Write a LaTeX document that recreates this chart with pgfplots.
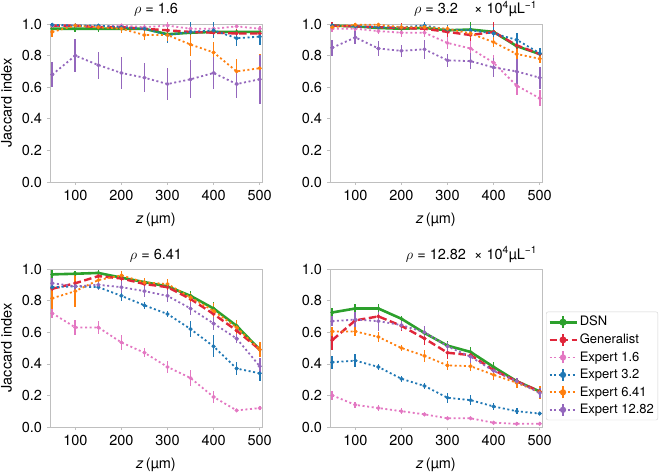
\documentclass[border=0pt]{standalone}
\usepackage{fontspec}
\setmainfont{TeX Gyre Heros}
\usepackage{pgfplots}
\usepackage{pgfplotstable}
\pgfplotsset{compat=1.18}

\definecolor{cgreen}{HTML}{2CA02C}
\definecolor{cred}{HTML}{E0263A}
\definecolor{cpink}{HTML}{E377C2}
\definecolor{cblue}{HTML}{1F77B4}
\definecolor{corange}{HTML}{FF7F0E}
\definecolor{cpurple}{HTML}{9467BD}

% columns: x, DSN, err, Generalist, err, Expert1.6, err, Expert3.2, err, Expert6.41, err, Expert12.82, err
\pgfplotstableread{
x   d     de    g     ge    p     pe    b     be    o     oe    u     ue
50  0.97  0.02  0.99  0.01  0.99  0.01  0.995 0.01  0.95  0.03  0.68  0.08
100 0.97  0.02  0.99  0.01  0.99  0.01  0.99  0.01  0.99  0.01  0.80  0.105
150 0.97  0.02  0.98  0.02  0.985 0.01  0.99  0.01  0.98  0.02  0.74  0.085
200 0.97  0.03  0.98  0.02  0.99  0.01  0.98  0.02  0.97  0.03  0.69  0.10
250 0.97  0.02  0.97  0.02  0.98  0.02  0.97  0.02  0.93  0.03  0.66  0.09
300 0.935 0.03  0.96  0.03  0.99  0.02  0.93  0.05  0.93  0.04  0.62  0.10
350 0.945 0.03  0.95  0.03  0.97  0.02  0.95  0.06  0.87  0.07  0.65  0.12
400 0.95  0.03  0.945 0.03  0.97  0.02  0.96  0.05  0.82  0.065 0.69  0.10
450 0.95  0.02  0.94  0.03  0.985 0.01  0.91  0.05  0.70  0.08  0.62  0.09
500 0.95  0.02  0.94  0.05  0.97  0.02  0.92  0.05  0.72  0.09  0.65  0.155
}\tA
\pgfplotstableread{
x   d     de    g     ge    p     pe    b     be    o     oe    u     ue
50  0.99  0.01  0.99  0.02  0.97  0.02  0.99  0.01  0.98  0.02  0.85  0.05
100 0.985 0.02  0.985 0.02  0.97  0.02  0.985 0.02  0.995 0.01  0.915 0.04
150 0.975 0.02  0.98  0.02  0.955 0.02  0.98  0.02  0.995 0.01  0.845 0.05
200 0.97  0.02  0.975 0.03  0.945 0.03  0.98  0.02  0.98  0.02  0.83  0.04
250 0.975 0.03  0.97  0.03  0.945 0.03  0.99  0.02  0.98  0.02  0.84  0.06
300 0.96  0.03  0.95  0.04  0.88  0.04  0.965 0.03  0.97  0.02  0.77  0.04
350 0.965 0.05  0.93  0.06  0.845 0.05  0.96  0.03  0.94  0.03  0.765 0.05
400 0.95  0.04  0.95  0.06  0.755 0.05  0.94  0.04  0.885 0.03  0.725 0.06
450 0.86  0.03  0.865 0.03  0.61  0.06  0.90  0.04  0.81  0.03  0.70  0.08
500 0.81  0.04  0.81  0.03  0.53  0.05  0.815 0.03  0.78  0.03  0.66  0.07
}\tB
\pgfplotstableread{
x   d     de    g     ge    p     pe    b     be    o     oe    u     ue
50  0.966 0.03  0.875 0.02  0.72  0.03  0.885 0.02  0.815 0.07  0.91  0.03
100 0.97  0.02  0.91  0.02  0.63  0.05  0.89  0.02  0.86  0.10  0.89  0.03
150 0.975 0.02  0.955 0.02  0.63  0.04  0.885 0.02  0.93  0.04  0.90  0.03
200 0.945 0.03  0.94  0.02  0.535 0.05  0.83  0.03  0.96  0.03  0.885 0.04
250 0.917 0.02  0.905 0.03  0.47  0.03  0.77  0.02  0.915 0.03  0.86  0.04
300 0.89  0.02  0.885 0.03  0.38  0.04  0.715 0.02  0.905 0.03  0.83  0.04
350 0.83  0.03  0.81  0.03  0.31  0.05  0.62  0.05  0.82  0.03  0.75  0.04
400 0.75  0.04  0.715 0.04  0.19  0.04  0.51  0.07  0.735 0.05  0.655 0.04
450 0.64  0.04  0.61  0.04  0.105 0.01  0.37  0.04  0.63  0.05  0.56  0.03
500 0.49  0.03  0.49  0.04  0.12  0.01  0.34  0.05  0.49  0.05  0.385 0.05
}\tC
\pgfplotstableread{
x   d     de    g     ge    p     pe    b     be    o     oe    u     ue
50  0.725 0.03  0.55  0.06  0.20  0.03  0.41  0.04  0.605 0.03  0.67  0.03
100 0.75  0.03  0.675 0.03  0.14  0.02  0.42  0.04  0.605 0.03  0.68  0.05
150 0.75  0.03  0.70  0.03  0.12  0.02  0.38  0.02  0.57  0.03  0.67  0.06
200 0.685 0.02  0.64  0.03  0.10  0.02  0.305 0.02  0.50  0.02  0.645 0.03
250 0.595 0.03  0.56  0.04  0.08  0.01  0.26  0.02  0.45  0.04  0.60  0.04
300 0.515 0.03  0.47  0.04  0.055 0.01  0.185 0.03  0.39  0.03  0.51  0.03
350 0.475 0.03  0.455 0.03  0.055 0.01  0.17  0.03  0.385 0.03  0.445 0.04
400 0.38  0.03  0.36  0.03  0.027 0.01  0.13  0.02  0.33  0.03  0.355 0.03
450 0.29  0.02  0.29  0.02  0.02  0.01  0.10  0.02  0.28  0.03  0.29  0.02
500 0.225 0.02  0.225 0.02  0.02  0.01  0.085 0.01  0.22  0.04  0.215 0.03
}\tD

\newcommand{\bigfont}{\fontsize{14.5}{17}\selectfont}
\newcommand{\legfont}{\fontsize{13}{15}\selectfont}

\pgfplotsset{
  panel/.style={
    scale only axis, width=212pt, height=158pt,
    xmin=45, xmax=505, ymin=0, ymax=1,
    xtick={100,200,300,400,500}, ytick={0,0.2,0.4,0.6,0.8,1.0},
    yticklabel style={/pgf/number format/fixed,/pgf/number format/fixed zerofill,/pgf/number format/precision=1},
    /pgf/number format/assume math mode=true,
    axis line style={gray!50, line width=0.7pt},
    tick style={gray!50, line width=0.6pt},
    tick align=outside, xtick pos=bottom, ytick pos=left,
    major tick length=3pt,
    tick label style={font=\bigfont},
    label style={font=\bigfont},
    xlabel={\textit{z}\,(µm)},
    xlabel style={yshift=-3pt},
    clip=false,
    error bars/y dir=both, error bars/y explicit,
    error bars/error bar style={solid, line width=1.7pt},
    error bars/error mark=none,
    legend image code/.code={
      \draw[##1] (0pt,0pt) -- (27pt,0pt);
      \draw[##1, solid, line width=2pt] (13.5pt,-6pt) -- (13.5pt,6pt);
      \fill[##1, solid] (13.5pt,0pt) circle (2.2pt);
    },
  },
  dsn/.style={cgreen, solid, line width=2.6pt, mark=*, mark size=1.8pt, mark options={solid, line width=0.4pt}},
  gen/.style={cred, dash pattern=on 7.5pt off 3.5pt, line width=2.4pt, mark=*, mark size=1.8pt, mark options={solid, line width=0.4pt}},
  expt/.style={#1, dash pattern=on 2pt off 2.6pt, line width=1.8pt, mark=*, mark size=1.9pt, mark options={solid, line width=0.4pt}},
}

\newcommand{\series}[1]{%
  \addplot[dsn] table[x=x,y=d,y error=de] {#1};
  \addplot[gen] table[x=x,y=g,y error=ge] {#1};
  \addplot[expt=cpink] table[x=x,y=p,y error=pe] {#1};
  \addplot[expt=cblue] table[x=x,y=b,y error=be] {#1};
  \addplot[expt=corange] table[x=x,y=o,y error=oe] {#1};
  \addplot[expt=cpurple] table[x=x,y=u,y error=ue] {#1};
}
\newcommand{\ttl}[1]{\node[anchor=base, yshift=10pt, font=\bigfont] at (rel axis cs:0.5,1) {#1};}
\newcommand{\unit}{\node[anchor=base east, yshift=10pt, font=\bigfont] at (rel axis cs:1,1) {× 10\textsuperscript{4}µL\textsuperscript{−1}};}

\begin{document}
\bigfont
\begin{tikzpicture}
\useasboundingbox (0,0) rectangle (670pt,472pt);

\begin{axis}[panel, at={(50pt,290pt)}, anchor=south west, ylabel={Jaccard index}]
\series{\tA}
\ttl{$\rho$ = 1.6}
\end{axis}

\begin{axis}[panel, at={(330pt,290pt)}, anchor=south west]
\series{\tB}
\ttl{$\rho$ = 3.2}
\unit
\end{axis}

\begin{axis}[panel, at={(50pt,45pt)}, anchor=south west, ylabel={Jaccard index}]
\series{\tC}
\ttl{$\rho$ = 6.41}
\end{axis}

\begin{axis}[panel, at={(330pt,45pt)}, anchor=south west,
  legend style={font=\legfont, draw=gray!35, rounded corners=2pt,
    at={(1,0.73)}, xshift=4pt, anchor=north west, row sep=1pt, inner sep=2pt,
    nodes={inner ysep=2.4pt}},
  legend cell align=left]
\series{\tD}
\ttl{$\rho$ = 12.82}
\unit
\legend{DSN, Generalist, Expert 1.6, Expert 3.2, Expert 6.41, Expert 12.82}
\end{axis}
\end{tikzpicture}
\end{document}
